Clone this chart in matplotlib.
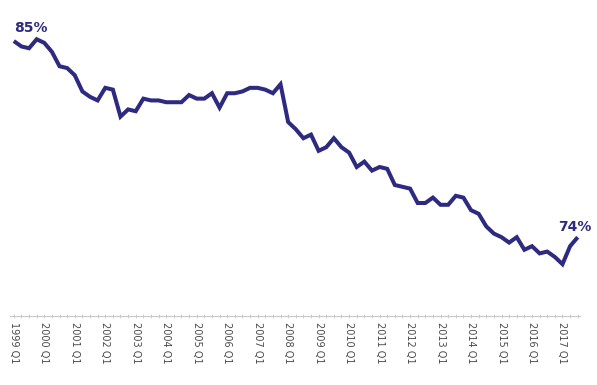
import matplotlib
matplotlib.use("Agg")
import matplotlib.pyplot as plt
from matplotlib.ticker import FixedLocator, MultipleLocator

# Quarterly share (%), 1999 Q1 .. 2017 Q3
QUARTERS = [f"{y} Q{q}" for y in range(1999, 2018) for q in range(1, 5)][:75]
SHARE = [
    85.0, 84.7, 84.6, 85.1, 84.9, 84.4, 83.6, 83.5, 83.1, 82.2, 81.9, 81.7,
    82.4, 82.3, 80.8, 81.2, 81.1, 81.8, 81.7, 81.7, 81.6, 81.6, 81.6, 82.0,
    81.8, 81.8, 82.1, 81.3, 82.1, 82.1, 82.2, 82.4, 82.4, 82.3, 82.1, 82.6,
    80.5, 80.1, 79.6, 79.8, 78.9, 79.1, 79.6, 79.1, 78.8, 78.0, 78.3, 77.8,
    78.0, 77.9, 77.0, 76.9, 76.8, 76.0, 76.0, 76.3, 75.9, 75.9, 76.4, 76.3,
    75.6, 75.4, 74.7, 74.3, 74.1, 73.8, 74.1, 73.4, 73.6, 73.2, 73.3, 73.0,
    72.6, 73.6, 74.1,
]
FIRST_LABEL = "85%"
LAST_LABEL = "74%"

COLOR_LINE = "#2e2a80"
COLOR_AXIS = "#c8c8c8"
COLOR_TICK_TEXT = "#4a4a4a"

fig = plt.figure(figsize=(5.97, 3.85), dpi=100)
ax = fig.add_axes([10 / 597, 69 / 385, 570 / 597, 296 / 385])

x = list(range(len(SHARE)))
ax.plot(x, SHARE, color=COLOR_LINE, linewidth=2.9, solid_joinstyle="miter",
        solid_capstyle="butt")

ax.set_xlim(-0.5, 74.3)
ax.set_ylim(69.72, 86.17)

for spine in ("top", "right", "left"):
    ax.spines[spine].set_visible(False)
ax.spines["bottom"].set_color(COLOR_AXIS)
ax.spines["bottom"].set_linewidth(0.8)
ax.set_yticks([])

major = list(range(0, len(QUARTERS), 4))
ax.xaxis.set_major_locator(FixedLocator(major))
ax.set_xticklabels([QUARTERS[i] for i in major], rotation=270,
                   fontsize=7, color=COLOR_TICK_TEXT)
ax.xaxis.set_minor_locator(MultipleLocator(1))
ax.tick_params(axis="x", which="both", direction="inout", length=3,
               color=COLOR_AXIS, width=0.6, pad=3)

ax.annotate(FIRST_LABEL, (x[0], SHARE[0]), xytext=(0, 4),
            textcoords="offset points", ha="left", va="bottom",
            fontsize=10, fontweight="bold", color=COLOR_LINE)
ax.annotate(LAST_LABEL, (x[-1], SHARE[-1]), xytext=(10, 2),
            textcoords="offset points", ha="right", va="bottom",
            fontsize=10, fontweight="bold", color=COLOR_LINE)

fig.savefig("out.png", dpi=100)
plt.close(fig)
